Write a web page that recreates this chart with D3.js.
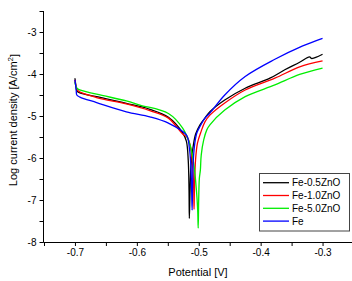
<!DOCTYPE html>
<html>
<head>
	<meta charset="utf-8">
	<title>Tafel plot</title>
	<script src="https://d3js.org/d3.v7.min.js" type="text/javascript"></script>
	<style>
		body { margin: 0; background: #fff; }
		svg text { font-family: "Liberation Sans", Arial, sans-serif; fill: #000; }
		.axis path, .axis line { stroke: #000; stroke-width: 1; }
	</style>
</head>
<body>
	<script type="text/javascript">
		// Series: [potential V, log current density]
		var series_names = ["Fe-0.5ZnO", "Fe-1.0ZnO", "Fe-5.0ZnO", "Fe"];
		var series_colors = ["#000000", "#ff0000", "#00ee00", "#0000ff"];

		var fe05 = [
			[-0.700, -4.10], [-0.698, -4.33], [-0.697, -4.40], [-0.692, -4.45], [-0.665, -4.54],
			[-0.617, -4.70], [-0.579, -4.84], [-0.549, -5.03], [-0.526, -5.40], [-0.520, -5.60],
			[-0.5170, -6.05], [-0.5157, -6.76], [-0.5152, -7.44], [-0.5140, -6.76], [-0.5125, -6.17],
			[-0.5092, -5.74], [-0.505, -5.43], [-0.498, -5.21], [-0.490, -5.05], [-0.482, -4.90],
			[-0.458, -4.62], [-0.425, -4.34], [-0.385, -4.10], [-0.361, -3.90], [-0.337, -3.72],
			[-0.321, -3.59], [-0.318, -3.63], [-0.312, -3.61], [-0.300, -3.53]
		];
		var fe10 = [
			[-0.700, -4.14], [-0.698, -4.31], [-0.695, -4.40], [-0.665, -4.56], [-0.617, -4.71],
			[-0.579, -4.87], [-0.549, -5.05], [-0.526, -5.43], [-0.519, -5.50], [-0.514, -5.69],
			[-0.5100, -6.17], [-0.5081, -6.76], [-0.5076, -7.22], [-0.5070, -6.76], [-0.5052, -6.05],
			[-0.5020, -5.64], [-0.496, -5.36], [-0.490, -5.14], [-0.482, -4.98], [-0.458, -4.69],
			[-0.425, -4.38], [-0.377, -4.10], [-0.337, -3.83], [-0.300, -3.69]
		];
		var fe50 = [
			[-0.700, -4.19], [-0.698, -4.31], [-0.695, -4.36], [-0.665, -4.48], [-0.617, -4.64],
			[-0.595, -4.74], [-0.549, -4.94], [-0.526, -5.29], [-0.514, -5.69], [-0.5078, -6.17],
			[-0.5038, -6.76], [-0.5017, -7.24], [-0.5009, -7.67], [-0.5001, -7.00], [-0.4990, -6.48],
			[-0.4974, -6.29], [-0.4960, -5.93], [-0.492, -5.57], [-0.487, -5.33], [-0.482, -5.21],
			[-0.458, -4.86], [-0.425, -4.54], [-0.377, -4.26], [-0.337, -4.01], [-0.300, -3.86]
		];
		var fe = [
			[-0.700, -4.14], [-0.698, -4.38], [-0.697, -4.50], [-0.692, -4.55], [-0.665, -4.68],
			[-0.617, -4.90], [-0.579, -5.02], [-0.549, -5.17], [-0.520, -5.45], [-0.5152, -5.76],
			[-0.5128, -6.17], [-0.5115, -6.76], [-0.5107, -7.24], [-0.5099, -6.64], [-0.5088, -6.05],
			[-0.5063, -5.64], [-0.503, -5.40], [-0.498, -5.25], [-0.490, -5.05], [-0.482, -4.93],
			[-0.458, -4.50], [-0.425, -4.06], [-0.377, -3.65], [-0.332, -3.33], [-0.300, -3.15]
		];
		var all_series = [fe05, fe10, fe50, fe];

		var x_ticks = [-0.7, -0.6, -0.5, -0.4, -0.3];
		var x_minor = [-0.75, -0.65, -0.55, -0.45, -0.35];
		var y_ticks = [-8, -7, -6, -5, -4, -3];
		var y_minor = [-7.5, -6.5, -5.5, -4.5, -3.5, -2.5];

		var svg_width = 352;
		var svg_height = 281;
		var svg = d3.select("body").append("svg")
			.attr("width", svg_width)
			.attr("height", svg_height);

		var x = d3.scaleLinear().domain([-0.75, -0.25]).range([44, 353.5]);
		var y = d3.scaleLinear().domain([-8, -2.5]).range([242, 11]);

		// axes
		var xAxis = d3.axisBottom(x)
			.tickValues(x_ticks.concat(x_minor))
			.tickSize(4)
			.tickFormat(function(d) {
				return x_ticks.indexOf(d) >= 0 ? d.toFixed(1) : "";
			});
		svg.append("g").attr("class", "axis")
			.attr("transform", "translate(0,242)")
			.call(xAxis)
			.call(function(g) {
				g.select(".domain").attr("d", "M43.5,0.5H353");
				g.selectAll("text").attr("font-size", "10px").attr("dy", "0.73em")
					.attr("font-family", "Liberation Sans, Arial, sans-serif");
			});

		var yAxis = d3.axisLeft(y)
			.tickValues(y_ticks.concat(y_minor))
			.tickSize(4)
			.tickPadding(3)
			.tickFormat(function(d) {
				return y_ticks.indexOf(d) >= 0 ? String(d) : "";
			});
		svg.append("g").attr("class", "axis")
			.attr("transform", "translate(43.5,0)")
			.call(yAxis)
			.call(function(g) {
				g.select(".domain").attr("d", "M0,11V242.5");
				g.selectAll("text").attr("font-size", "10px")
					.attr("font-family", "Liberation Sans, Arial, sans-serif");
			});

		// curves
		var line = d3.line()
			.x(function(d) { return x(d[0]); })
			.y(function(d) { return y(d[1]); })
			.curve(d3.curveCatmullRom.alpha(0.5));

		svg.selectAll("path.curve")
			.data(all_series)
			.enter()
			.append("path")
			.attr("class", "curve")
			.attr("d", line)
			.attr("fill", "none")
			.attr("stroke-width", 1.3)
			.attr("stroke", function(d, i) { return series_colors[i]; });

		// axis titles
		svg.append("text")
			.attr("x", 198)
			.attr("y", 276)
			.attr("text-anchor", "middle")
			.attr("font-size", "11px")
			.text("Potential [V]");

		var ylab = svg.append("text")
			.attr("transform", "translate(17,120) rotate(-90)")
			.attr("text-anchor", "middle")
			.attr("font-size", "11px");
		ylab.append("tspan").text("Log current density [A/cm");
		ylab.append("tspan").attr("dy", "-0.45em").attr("font-size", "8px").text("2");
		ylab.append("tspan").attr("dy", "0.45em").text("]");

		// legend
		var legend = svg.append("g");
		legend.append("rect")
			.attr("x", 259.5).attr("y", 173.5)
			.attr("width", 90).attr("height", 57.5)
			.attr("fill", "#fff")
			.attr("stroke", "#444")
			.attr("stroke-width", 1);
		var rows = legend.selectAll("g.row")
			.data(series_names)
			.enter()
			.append("g")
			.attr("transform", function(d, i) {
				return "translate(0," + (182.7 + i * 12.8) + ")";
			});
		rows.append("line")
			.attr("x1", 263).attr("x2", 289)
			.attr("y1", 0).attr("y2", 0)
			.attr("stroke-width", 1.3)
			.attr("stroke", function(d, i) { return series_colors[i]; });
		rows.append("text")
			.attr("x", 292)
			.attr("y", 3.6)
			.attr("font-size", "10px")
			.text(function(d) { return d; });
	</script>
</body>
</html>
